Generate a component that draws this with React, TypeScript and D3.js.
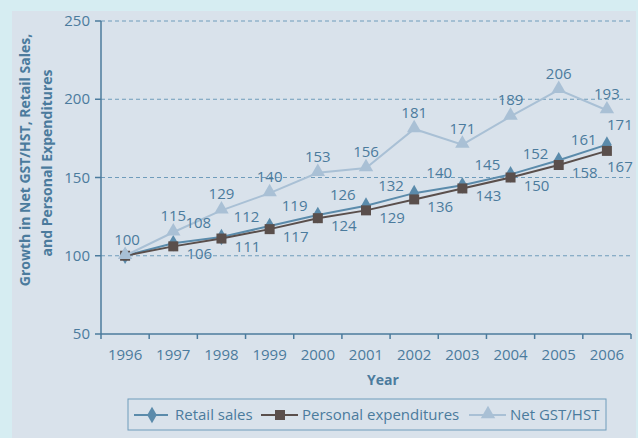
import * as d3 from "d3";

const years = ["1996", "1997", "1998", "1999", "2000", "2001", "2002", "2003", "2004", "2005", "2006"];
const retailSales = [100, 108, 112, 119, 126, 132, 140, 145, 152, 161, 171];
const personalExp = [100, 106, 111, 117, 124, 129, 136, 143, 150, 158, 167];
const netGst = [100, 115, 129, 140, 153, 156, 181, 171, 189, 206, 193];
const yTicks = [50, 100, 150, 200, 250];

const W = 638, H = 438;
const FONT = "'Open Sans', 'DejaVu Sans', sans-serif";
const TXT = "#4b7b9d";
const RETAIL = "#5b8bab";
const PERSONAL = "#5a4f4c";
const NET = "#a9c0d5";

const x = d3.scaleBand<string>().domain(years).range([101, 631]).padding(0);
const y = d3.scaleLinear().domain([50, 250]).range([334, 21]);
const cx = (yr: string) => (x(yr) as number) + x.bandwidth() / 2;

const line = d3.line<number>()
  .x((_, i) => cx(years[i]))
  .y((d) => y(d));

const diamond = d3.symbol().type(d3.symbolDiamond).size(80)();
const square = d3.symbol().type(d3.symbolSquare).size(100)();
const triangle = d3.symbol().type(d3.symbolTriangle).size(90)();

function Marker({ kind, tx, ty }: { kind: string; tx: number; ty: number }) {
  if (kind === "diamond") return <path d={diamond as string} transform={`translate(${tx},${ty})`} fill={RETAIL} />;
  if (kind === "square") return <path d={square as string} transform={`translate(${tx},${ty})`} fill={PERSONAL} />;
  return <path d={triangle as string} transform={`translate(${tx},${ty - 1})`} fill={NET} />;
}

export default function App() {
  const last = years.length - 1;
  return (
    <svg width={W} height={H} style={{ position: "absolute", left: 0, top: 0 }} fontFamily={FONT}>
      <rect x={0} y={0} width={W} height={H} fill="#d6edf2" />
      <rect x={12} y={11} width={624} height={H - 11} fill="#d9e2eb" />

      {/* grid */}
      {yTicks.filter((t) => t > 50).map((t) => (
        <line key={t} x1={101} x2={631} y1={y(t)} y2={y(t)} stroke="#6f9cbb" strokeWidth={1} strokeDasharray="4,3" />
      ))}

      {/* axes */}
      <line x1={101} x2={101} y1={y(250)} y2={y(50)} stroke={TXT} strokeWidth={1.5} />
      <line x1={101} x2={631} y1={y(50)} y2={y(50)} stroke={TXT} strokeWidth={1.5} />
      {yTicks.map((t) => (
        <g key={t}>
          <line x1={95} x2={101} y1={y(t)} y2={y(t)} stroke={TXT} strokeWidth={1.5} />
          <text x={90} y={y(t) + 5} textAnchor="end" fontSize={15} fill={TXT}>{t}</text>
        </g>
      ))}
      {years.map((yr) => (
        <text key={yr} x={cx(yr)} y={360} textAnchor="middle" fontSize={15} fill={TXT}>{yr}</text>
      ))}
      {[...years.map((yr) => x(yr) as number), 631].map((v, i) => (
        <line key={i} x1={v} x2={v} y1={y(50)} y2={y(50) + 5} stroke={TXT} strokeWidth={1.5} />
      ))}

      {/* titles */}
      <text transform="translate(30,160) rotate(-90)" textAnchor="middle" fontSize={14} fontWeight="bold" fill={TXT}>
        Growth in Net GST/HST, Retail Sales,
      </text>
      <text transform="translate(52,163) rotate(-90)" textAnchor="middle" fontSize={14} fontWeight="bold" fill={TXT}>
        and Personal Expenditures
      </text>
      <text x={383} y={385} textAnchor="middle" fontSize={14} fontWeight="bold" fill={TXT}>Year</text>

      {/* series */}
      <path d={line(retailSales) as string} fill="none" stroke={RETAIL} strokeWidth={2} />
      {retailSales.map((v, i) => <Marker key={i} kind="diamond" tx={cx(years[i])} ty={y(v)} />)}
      <path d={line(personalExp) as string} fill="none" stroke={PERSONAL} strokeWidth={2} />
      {personalExp.map((v, i) => <Marker key={i} kind="square" tx={cx(years[i])} ty={y(v)} />)}
      <path d={line(netGst) as string} fill="none" stroke={NET} strokeWidth={2} />
      {netGst.map((v, i) => <Marker key={i} kind="triangle" tx={cx(years[i])} ty={y(v)} />)}

      {/* labels */}
      {netGst.map((v, i) => (
        <text key={i} x={cx(years[i]) + (i === 0 ? 2 : 0)} y={y(v) - 11} textAnchor="middle" fontSize={15} fill={TXT}>{v}</text>
      ))}
      {retailSales.map((v, i) => i === 0 ? null : (
        <text key={i} x={cx(years[i]) + (i === last ? 13 : 25)} y={y(v) - 15} textAnchor="middle" fontSize={15} fill={TXT}>{v}</text>
      ))}
      {personalExp.map((v, i) => i === 0 ? null : (
        <text key={i} x={cx(years[i]) + (i === last ? 13 : 26)} y={y(v) + (i === last ? 21 : 13)} textAnchor="middle" fontSize={15} fill={TXT}>{v}</text>
      ))}

      {/* legend */}
      <rect x={128} y={399} width={478} height={31} fill="none" stroke="#6f9cbb" strokeWidth={1} />
      <line x1={134} x2={168} y1={415} y2={415} stroke={RETAIL} strokeWidth={2} />
      <Marker kind="diamond" tx={152} ty={415} />
      <text x={175} y={420} fontSize={15} fill={TXT}>Retail sales</text>
      <line x1={261} x2={298} y1={415} y2={415} stroke={PERSONAL} strokeWidth={2} />
      <Marker kind="square" tx={280} ty={415} />
      <text x={302} y={420} fontSize={15} fill={TXT}>Personal expenditures</text>
      <line x1={469} x2={506} y1={415} y2={415} stroke={NET} strokeWidth={2} />
      <Marker kind="triangle" tx={488} ty={415} />
      <text x={510} y={420} fontSize={15} fill={TXT}>Net GST/HST</text>
    </svg>
  );
}
